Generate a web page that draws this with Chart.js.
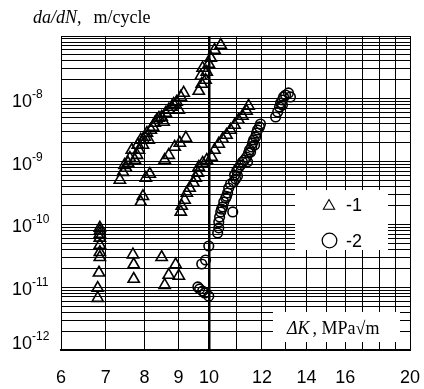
<!DOCTYPE html>
<html>
<head>
<meta charset="utf-8">
<script src="https://cdn.jsdelivr.net/npm/chart.js@4.4.1/dist/chart.umd.min.js"></script>
<style>
  html, body { margin: 0; padding: 0; background: #fff; }
  canvas { display: block; }
</style>
</head>
<body>
<canvas id="c" width="424" height="389"></canvas>
<script>
// Series 1 (triangles): stress-intensity range, MPa·√m
const series1K = [
  6.86, 6.86, 6.86, 6.86, 6.86, 6.86, 6.86, 6.84, 6.81, 6.81,
  7.69, 7.71, 7.71,
  8.49, 8.91, 8.70, 9.01, 8.58,
  7.35, 7.43, 7.51, 7.56, 7.61, 7.66, 7.74, 7.80, 7.85, 7.90, 7.96, 8.01, 8.07, 8.12,
  8.18, 8.24, 8.29, 8.35, 8.41, 8.49, 8.55, 8.61, 8.70, 8.79, 8.85, 8.94, 9.01, 9.07, 9.16,
  7.82, 7.98, 7.47,
  7.90, 7.96, 8.04, 8.15, 8.58, 8.70, 8.88, 9.04, 9.23,
  9.65, 9.75, 9.88, 9.72, 9.92, 9.78, 9.99, 10.06, 10.19, 10.41,
  9.07, 9.10, 9.19, 9.26, 9.35, 9.48, 9.55, 9.62, 9.65, 9.78, 9.92, 10.09, 10.19, 10.34,
  10.48, 10.62, 10.77, 10.92, 11.07, 11.22, 11.38, 11.46
];
// Series 1 crack growth rate, m/cycle
const series1Rate = [
  8.8e-11, 7.9e-11, 7.0e-11, 6.1e-11, 4.7e-11, 3.6e-11, 3.0e-11, 1.7e-11, 9.7e-12, 6.7e-12,
  3.3e-11, 2.3e-11, 1.35e-11,
  3.0e-11, 2.3e-11, 1.56e-11, 1.51e-11, 1.08e-11,
  5.1e-10, 6.8e-10, 7.9e-10, 9.5e-10, 1.14e-9, 1.53e-9, 1.06e-9, 1.27e-9, 1.53e-9, 2.21e-9, 1.84e-9, 2.47e-9, 2.85e-9, 2.21e-9,
  3.19e-9, 3.56e-9, 4.12e-9, 4.6e-9, 4.95e-9, 5.13e-9, 4.27e-9, 5.94e-9, 6.64e-9, 7.41e-9, 8.27e-9, 8.9e-9, 6.64e-9, 1.07e-8, 1.24e-8,
  1.84e-9, 2.21e-9, 8.8e-10,
  2.27e-10, 2.8e-10, 5.5e-10, 6.35e-10, 1.06e-9, 1.27e-9, 1.71e-9, 1.98e-9, 2.38e-9,
  1.33e-8, 1.72e-8, 1.99e-8, 2.31e-8, 2.67e-8, 3.09e-8, 3.58e-8, 4.46e-8, 5.99e-8, 7.19e-8,
  1.58e-10, 1.96e-10, 2.45e-10, 3.16e-10, 3.8e-10, 4.56e-10, 5.48e-10, 6.58e-10, 8.21e-10, 9.5e-10, 1.06e-9, 1.18e-9, 1.53e-9, 1.91e-9,
  2.29e-9, 2.65e-9, 3.19e-9, 3.83e-9, 4.6e-9, 5.32e-9, 6.39e-9, 7.69e-9
];

// Series 2 (circles)
const series2K = [
  9.99, 9.75, 9.88, 9.62, 9.68, 9.78, 9.85, 9.99,
  10.30, 10.34, 10.34, 10.37, 10.41, 10.48, 10.52, 10.59, 10.66, 10.70, 10.77, 10.88, 10.96, 10.85,
  10.92, 11.00, 11.07, 11.15, 11.22, 11.30, 11.38, 11.46, 11.50, 11.58, 11.62, 11.66, 11.74, 11.78,
  11.82, 11.90, 11.94,
  10.62, 10.44, 11.03, 11.42, 11.70, 11.54,
  12.58, 12.67, 12.75, 12.80, 12.88, 12.93, 13.02, 13.15, 13.24, 12.88
];
const series2Rate = [
  4.53e-11, 2.34e-11, 2.71e-11, 1.01e-11, 9.4e-12, 8.7e-12, 8.1e-12, 7.2e-12,
  7.3e-11, 8.8e-11, 1.09e-10, 1.31e-10, 1.58e-10, 1.89e-10, 2.27e-10, 2.63e-10, 3.16e-10, 3.8e-10, 4.4e-10, 4.74e-10, 5.28e-10, 1.58e-10,
  6.12e-10, 7.09e-10, 7.91e-10, 8.83e-10, 9.86e-10, 1.06e-9, 1.18e-9, 1.37e-9, 1.53e-9, 1.71e-9, 1.98e-9, 2.21e-9, 2.47e-9, 2.85e-9,
  3.19e-9, 3.56e-9, 3.97e-9,
  2.8e-10, 1.75e-10, 5.9e-10, 9.9e-10, 1.84e-9, 1.42e-9,
  5.13e-9, 6.17e-9, 7.41e-9, 8.58e-9, 9.57e-9, 1.07e-8, 1.15e-8, 1.24e-8, 1.07e-8, 7.97e-9
];

const xTickLabels = [6, 7, 8, 9, 10, 12, 14, 16, 20];
const yDecadeExponents = [-12, -11, -10, -9, -8];
const legendLabels = ['-1', '-2'];
const yTitleItalic = 'da/dN,';
const yTitleUnit = 'm/cycle';
const xTitleItalic = '\u0394K';
const xTitleUnit = ', MPa\u221Am';

const toPoints = (xs, ys) => xs.map((v, i) => ({ x: v, y: ys[i] }));

function putText(ctx, str, x, y, font, align) {
  ctx.font = font;
  ctx.textAlign = align || 'left';
  ctx.fillText(str, x, y);
  return ctx.measureText(str).width;
}

const SANS = 'Arial, "Liberation Sans", sans-serif';
const SERIF = '"Times New Roman", "Liberation Serif", serif';

const decorPlugin = {
  id: 'decor',
  afterDraw(chart) {
    const { ctx, scales: { x, y } } = chart;
    ctx.save();
    ctx.fillStyle = '#000';
    ctx.textBaseline = 'alphabetic';

    // x tick labels
    xTickLabels.forEach(v => {
      putText(ctx, String(v), x.getPixelForValue(v), 383, '18px ' + SANS, 'center');
    });

    // y tick labels: 10 with superscript exponent
    yDecadeExponents.forEach(e => {
      const py = Math.min(y.getPixelForValue(Math.pow(10, e)) + 2, 343);
      const w = putText(ctx, '10', 12, py + 6, '18px ' + SANS, 'left');
      putText(ctx, String(e), 12 + w, py - 3, '12px ' + SANS, 'left');
    });

    // y axis title
    const w1 = putText(ctx, yTitleItalic, 33, 23, 'italic 18px ' + SERIF, 'left');
    putText(ctx, yTitleUnit, 33 + w1 + 12, 23, '18px ' + SERIF, 'left');

    // legend box
    ctx.fillStyle = '#fff';
    ctx.fillRect(295, 190, 93, 60);
    ctx.strokeStyle = '#000';
    ctx.fillStyle = 'rgba(0,0,0,0)';
    ctx.lineWidth = 1.1;
    Chart.helpers.drawPoint(ctx, { pointStyle: 'triangle', radius: 6.5, borderWidth: 1.1 }, 329, 206);
    ctx.lineWidth = 1.3;
    Chart.helpers.drawPoint(ctx, { pointStyle: 'circle', radius: 7.3, borderWidth: 1.3 }, 329.5, 240.5);
    ctx.fillStyle = '#000';
    putText(ctx, legendLabels[0], 346, 211, '18px ' + SANS, 'left');
    putText(ctx, legendLabels[1], 346, 247, '18px ' + SANS, 'left');

    // x axis title box
    ctx.fillStyle = '#fff';
    ctx.fillRect(273, 312, 127, 30);
    ctx.fillStyle = '#000';
    const w2 = putText(ctx, xTitleItalic, 287, 334, 'italic 18px ' + SERIF, 'left');
    putText(ctx, xTitleUnit, 287 + w2 + 3, 334, '18px ' + SERIF, 'left');

    ctx.restore();
  }
};

new Chart(document.getElementById('c'), {
  type: 'scatter',
  data: {
    datasets: [
      {
        label: '1',
        data: toPoints(series1K, series1Rate),
        pointStyle: 'triangle',
        pointRadius: 6.5,
        borderWidth: 1.6,
        borderColor: '#000',
        backgroundColor: 'rgba(0,0,0,0)'
      },
      {
        label: '2',
        data: toPoints(series2K, series2Rate),
        pointStyle: 'circle',
        pointRadius: 4.8,
        borderWidth: 1.6,
        borderColor: '#000',
        backgroundColor: 'rgba(0,0,0,0)'
      }
    ]
  },
  options: {
    responsive: false,
    animation: false,
    devicePixelRatio: 1,
    layout: { padding: { left: 61, right: 14, top: 36, bottom: 39 } },
    plugins: { legend: { display: false }, tooltip: { enabled: false } },
    scales: {
      x: {
        type: 'logarithmic',
        min: 6,
        max: 20,
        afterBuildTicks: s => {
          const t = [];
          for (let v = 6; v <= 20; v++) t.push({ value: v });
          s.ticks = t;
        },
        afterFit: s => { s.height = 0; },
        ticks: { display: false },
        grid: {
          color: '#000',
          lineWidth: c => (c.tick && c.tick.value === 10 ? 2.5 : 1),
          drawTicks: false
        },
        border: { display: true, color: '#000', width: 2 }
      },
      y: {
        type: 'logarithmic',
        min: 1e-12,
        max: 1e-7,
        afterBuildTicks: s => {
          const t = [];
          for (let e = -12; e <= -8; e++) {
            for (let m = 1; m <= 9; m++) t.push({ value: m * Math.pow(10, e) });
          }
          t.push({ value: 1e-7 });
          s.ticks = t;
        },
        afterFit: s => { s.width = 0; },
        ticks: { display: false },
        grid: { color: '#000', lineWidth: 1, drawTicks: false },
        border: { display: true, color: '#000', width: 1 }
      }
    }
  },
  plugins: [decorPlugin]
});
</script>
</body>
</html>
